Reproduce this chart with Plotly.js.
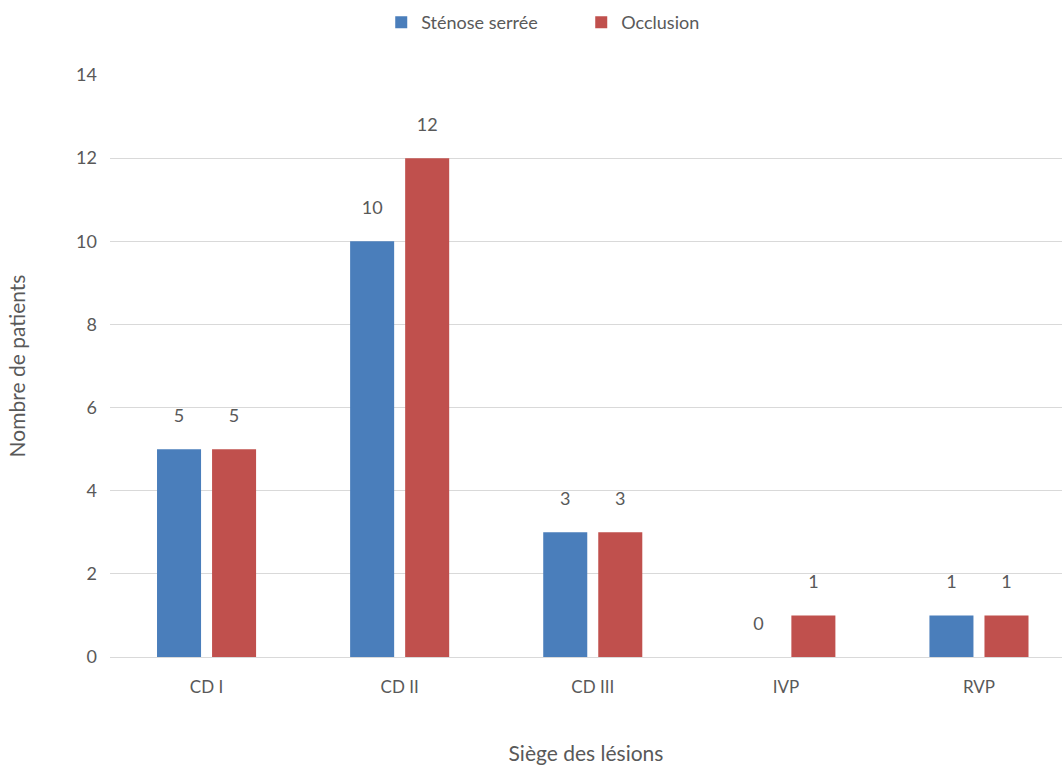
<!DOCTYPE html>
<html>
<head>
<meta charset="utf-8">
<script src="https://cdn.plot.ly/plotly-3.0.1.min.js"></script>
<style>html,body{margin:0;padding:0;background:#fff;}#chart{width:1062px;height:772px;}</style>
</head>
<body>
<div id="chart"></div>
<script>
const categories = ["CD I", "CD II", "CD III", "IVP", "RVP"];
const stenoseValues = [5, 10, 3, 0, 1];
const occlusionValues = [5, 12, 3, 1, 1];
const seriesNames = ["Sténose serrée", "Occlusion"];
const yTicks = [0, 2, 4, 6, 8, 10, 12, 14];

const fontFam = "Lato, 'Open Sans', sans-serif";
const grey = "#595959";

const traces = [
  {
    type: "bar", name: seriesNames[0], x: categories, y: stenoseValues,
    marker: {color: "#4a7ebb", line: {width: 0}},
    text: stenoseValues.map(String), texttemplate: "%{text}<br><span style='font-size:6px'> </span>", textposition: "outside", cliponaxis: false,
    textfont: {family: fontFam, size: 18, color: grey}
  },
  {
    type: "bar", name: seriesNames[1], x: categories, y: occlusionValues,
    marker: {color: "#c0504d", line: {width: 0}},
    text: occlusionValues.map(String), texttemplate: "%{text}<br><span style='font-size:6px'> </span>", textposition: "outside", cliponaxis: false,
    textfont: {family: fontFam, size: 18, color: grey}
  }
];

const layout = {
  width: 1062, height: 772,
  margin: {l: 110, r: 0, t: 75, b: 115, autoexpand: false},
  paper_bgcolor: "#fff", plot_bgcolor: "#fff",
  font: {family: fontFam, color: grey, size: 17},
  barmode: "group", bargap: 0.43, bargroupgap: 0.2,
  showlegend: true,
  legend: {orientation: "h", x: 0.495, xanchor: "center", y: 1.09, yanchor: "middle",
           font: {family: fontFam, size: 18, color: grey}, traceorder: "normal",
           itemwidth: 30, entrywidth: 155},
  xaxis: {
    type: "category", range: [-0.5, 4.43], showgrid: false, zeroline: false,
    showline: false, ticks: "", tickfont: {family: fontFam, size: 17, color: grey},
    ticklabelstandoff: 18,
    title: {text: "Siège des lésions", font: {family: fontFam, size: 21, color: grey}, standoff: 50}
  },
  yaxis: {
    range: [0, 14], tickvals: yTicks, ticktext: yTicks.map(String),
    showgrid: true, gridcolor: "#d9d9d9", gridwidth: 1, zeroline: true, zerolinecolor: "#d9d9d9",
    showline: false, ticks: "", tickfont: {family: fontFam, size: 18, color: grey},
    ticklabelstandoff: 12,
    title: {text: "Nombre de patients", font: {family: fontFam, size: 21, color: grey}, standoff: 44}
  }
};

Plotly.newPlot("chart", traces, layout, {displayModeBar: false, staticPlot: true});
</script>
</body>
</html>
